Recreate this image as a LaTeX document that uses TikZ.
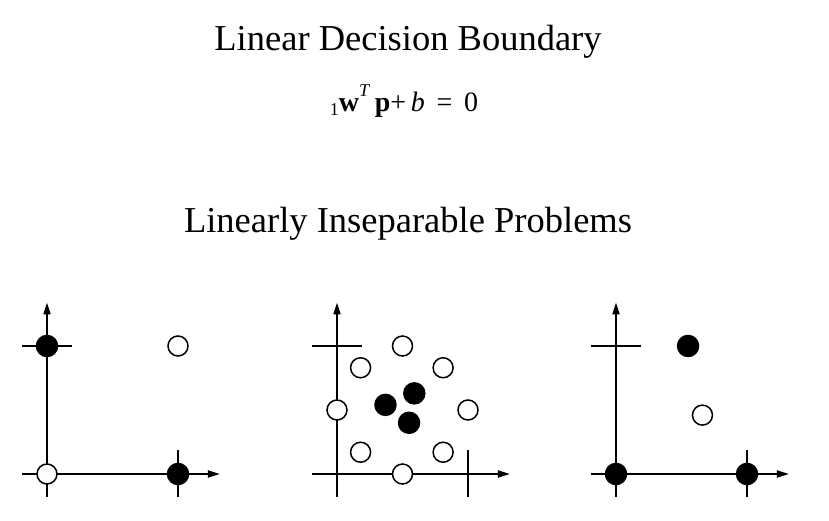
\documentclass[tikz,border=0pt]{standalone}
\usepackage{fontspec}
\setmainfont{Liberation Serif}
\usetikzlibrary{arrows.meta, positioning}

\begin{document}
\begin{tikzpicture}[
        x=1pt, y=1pt,
        title/.style={font=\fontsize{36.5}{44}\selectfont, anchor=base, inner sep=0},
        eqn/.style={font=\fontsize{28}{32}\selectfont, anchor=base, inner sep=0},
        axis/.style={line width=2pt, -{Triangle[length=12pt, width=7pt]}},
        tick/.style={line width=2pt},
        hollow/.style={circle, draw, line width=1.5pt, fill=white, minimum size=20pt, inner sep=0},
        solid/.style={circle, draw, line width=1.5pt, fill=black, minimum size=21pt, inner sep=0}
    ]
        \useasboundingbox (0,0) rectangle (829,521);

        % Headings
        \node[title] (head) at (408,470) {Linear Decision Boundary};
        \node[eqn] (rule) at (404,409) {\raisebox{-4pt}{\fontsize{18}{20}\selectfont 1}\textbf{w}\raisebox{15pt}{\fontsize{18}{20}\selectfont\textit{T}}\,\textbf{p}+\,\textit{b}\, =\, 0};
        \node[title] (sub) at (408,288) {Linearly Inseparable Problems};

        % Axes of the three panels
        \foreach \px/\name in {47/a, 337/b, 616/c} {
            \begin{scope}[shift={(\px,47)}, x=131pt, y=128pt]
                \coordinate (\name-o) at (0,0);
                \coordinate (\name-xl) at (-0.19,0);
                \coordinate (\name-xr) at (1.32,0);
                \coordinate (\name-yb) at (0,-0.18);
                \coordinate (\name-yt) at (0,1.34);
                \draw[axis] (\name-xl) -- (\name-xr);
                \draw[axis] (\name-yb) -- (\name-yt);
                \draw[tick] (-0.19,1) coordinate (\name-tl) -- (0.19,1) coordinate (\name-tr);
                \draw[tick] (1,-0.18) coordinate (\name-tb) -- (1,0.19) coordinate (\name-tt);
            \end{scope}
        }

        % Panel 1 (XOR)
        \begin{scope}[shift={(47,47)}, x=131pt, y=128pt]
            \node[hollow] (a00) at (0,0) {};
            \node[solid] (a10) at (1,0) {};
            \node[solid] (a01) at (0,1) {};
            \node[hollow] (a11) at (1,1) {};
        \end{scope}

        % Panel 2 (ring)
        \begin{scope}[shift={(337,47)}, x=131pt, y=128pt]
            \node[hollow] (b1) at (0.5,1) {};
            \node[hollow] (b2) at (0.18,0.83) {};
            \node[hollow] (b3) at (0.81,0.83) {};
            \node[hollow] (b4) at (0,0.5) {};
            \node[hollow] (b5) at (1,0.5) {};
            \node[hollow] (b6) at (0.18,0.17) {};
            \node[hollow] (b7) at (0.81,0.17) {};
            \node[hollow] (b8) at (0.5,0) {};
            \node[solid] (b9) at (0.59,0.63) {};
            \node[solid] (b10) at (0.37,0.54) {};
            \node[solid] (b11) at (0.55,0.4) {};
        \end{scope}

        % Panel 3
        \begin{scope}[shift={(616,47)}, x=131pt, y=128pt]
            \node[solid] (c00) at (0,0) {};
            \node[solid] (c10) at (1,0) {};
            \node[solid] (c1) at (0.55,1) {};
            \node[hollow] (c2) at (0.66,0.46) {};
        \end{scope}
    \end{tikzpicture}
\end{document}
